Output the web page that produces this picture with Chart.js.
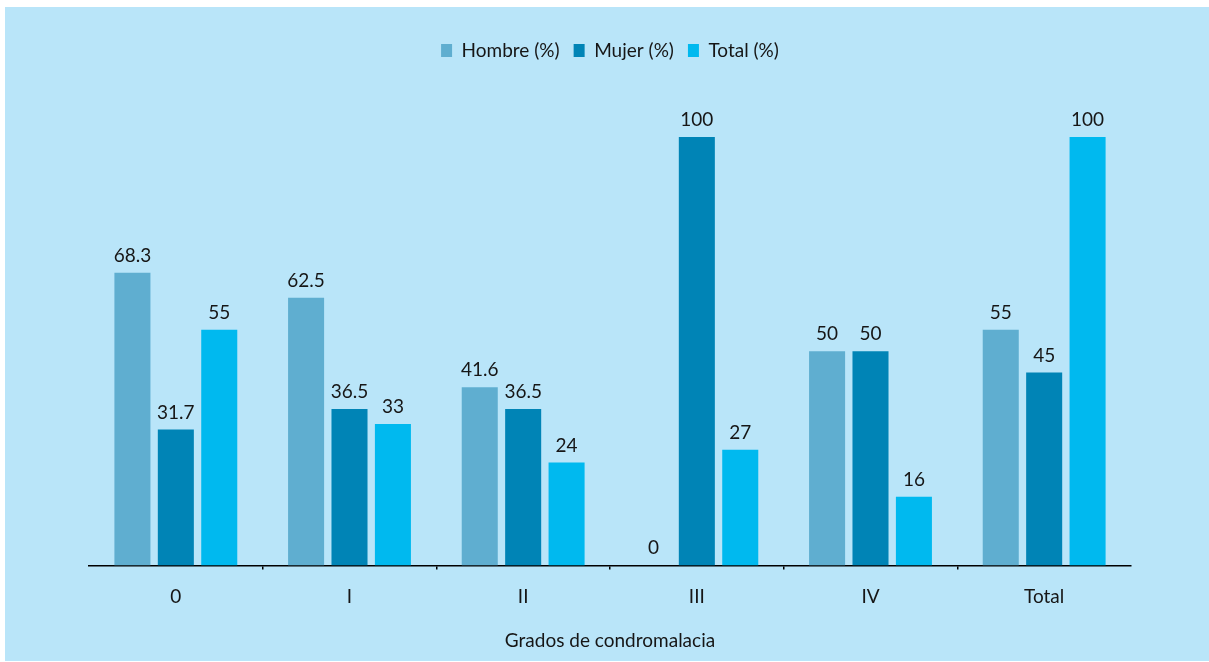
<!DOCTYPE html>
<html>
<head>
<meta charset="utf-8">
<script src="https://cdn.jsdelivr.net/npm/chart.js@4.4.1/dist/chart.umd.min.js"></script>
<style>
    body { margin: 0; background: #ffffff; }
    #panel {
        position: absolute;
        left: 5px;
        top: 7px;
        width: 1204px;
        height: 654px;
        background: #b9e5f9;
    }
</style>
</head>
<body>
<div id="panel">
    <canvas id="chartGrados" width="1204" height="654"></canvas>
</div>
<script>
const categories = ['0', 'I', 'II', 'III', 'IV', 'Total'];
const hombre = [68.3, 62.5, 41.6, 0, 50, 55];
const mujer = [31.7, 36.5, 36.5, 100, 50, 45];
const total = [55, 33, 24, 27, 16, 100];
const seriesNames = ['Hombre (%)', 'Mujer (%)', 'Total (%)'];
const axisTitle = 'Grados de condromalacia';

const fontFamily = 'Lato, "Open Sans", sans-serif';
const textColor = '#161616';

// numbers over each bar
const barLabels = {
    id: 'barLabels',
    afterDatasetsDraw(chart) {
        const ctx = chart.ctx;
        ctx.save();
        ctx.font = '19px ' + fontFamily;
        ctx.fillStyle = textColor;
        ctx.textAlign = 'center';
        ctx.textBaseline = 'alphabetic';
        chart.data.datasets.forEach((ds, di) => {
            const meta = chart.getDatasetMeta(di);
            meta.data.forEach((bar, i) => {
                ctx.fillText(String(ds.data[i]), bar.x, bar.y - 11);
            });
        });
        ctx.restore();
    }
};

// leave room between legend and bars
const legendGap = {
    id: 'legendGap',
    beforeInit(chart) {
        const fit = chart.legend.fit;
        chart.legend.fit = function () {
            fit.bind(chart.legend)();
            this.height += 67;
        };
    }
};

const config = {
    type: 'bar',
    data: {
        labels: categories,
        datasets: [
            { label: seriesNames[0], data: hombre, backgroundColor: '#5faed0' },
            { label: seriesNames[1], data: mujer, backgroundColor: '#0084b6' },
            { label: seriesNames[2], data: total, backgroundColor: '#00b9ef' }
        ]
    },
    options: {
        responsive: false,
        animation: false,
        layout: {
            padding: { left: 84, right: 78, top: 20, bottom: 5 }
        },
        datasets: {
            bar: {
                categoryPercentage: 0.75,
                barPercentage: 0.83,
                borderWidth: 0
            }
        },
        plugins: {
            legend: {
                position: 'top',
                labels: {
                    boxWidth: 11,
                    boxHeight: 13,
                    padding: 14,
                    color: textColor,
                    font: { family: fontFamily, size: 19 }
                }
            },
            tooltip: { enabled: false }
        },
        scales: {
            x: {
                offset: true,
                grid: {
                    offset: true,
                    drawOnChartArea: false,
                    tickLength: 4,
                    lineWidth: 1.5,
                    color: (c) => (c.index === undefined || c.index === 0) ? 'rgba(0,0,0,0)' : '#000000'
                },
                border: { color: '#000000', width: 1.5 },
                ticks: {
                    padding: 16,
                    color: textColor,
                    font: { family: fontFamily, size: 19 }
                },
                title: {
                    display: true,
                    text: axisTitle,
                    color: textColor,
                    padding: { top: 5, bottom: 4 },
                    font: { family: fontFamily, size: 19 }
                }
            },
            y: {
                display: false,
                min: 0,
                max: 100
            }
        }
    },
    plugins: [barLabels, legendGap]
};

let barChart = new Chart(document.getElementById('chartGrados'), config);
</script>
</body>
</html>
